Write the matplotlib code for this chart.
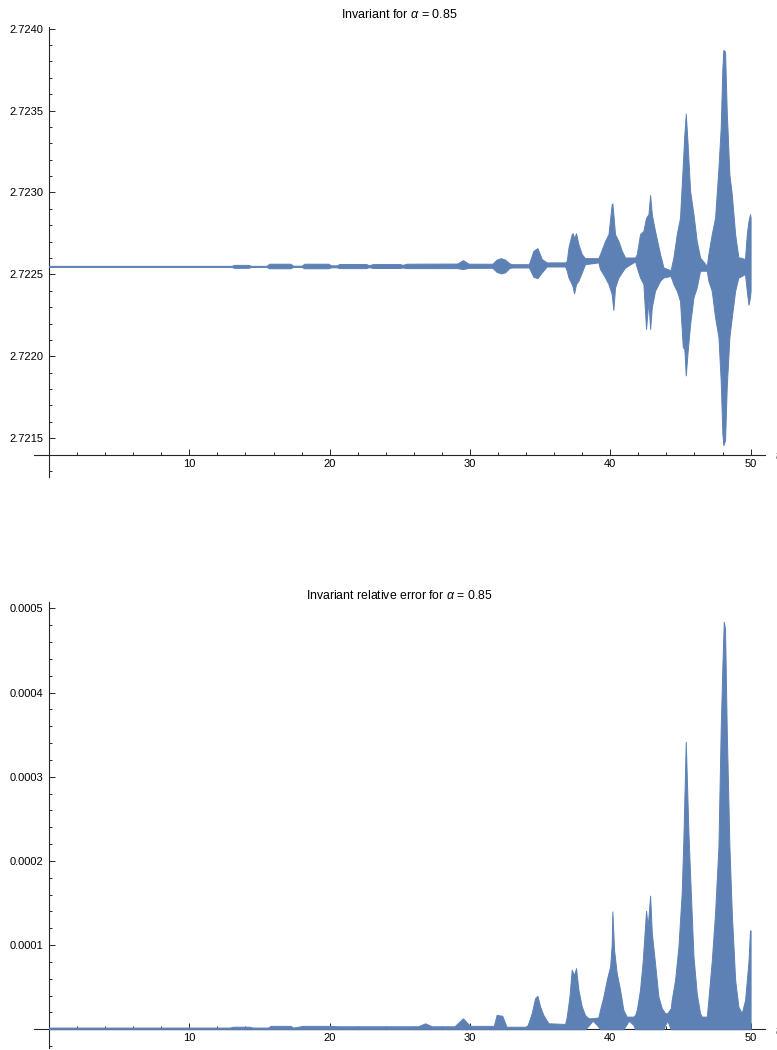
import matplotlib
matplotlib.use("Agg")
import matplotlib.pyplot as plt

plt.rcParams['font.family'] = ['Liberation Sans', 'DejaVu Sans']
plt.rcParams['mathtext.fontset'] = 'custom'
plt.rcParams['mathtext.rm'] = 'Liberation Sans'
plt.rcParams['mathtext.it'] = 'Liberation Sans:italic'

BLUE = "#5E81B5"
AXC = "#262626"

# invariant: envelope (upper / lower) of the fast oscillation
inv_t = [0.0, 13.0, 13.2, 14.2, 14.4, 15.5, 15.7, 17.2, 17.4, 18.0, 18.2, 19.9, 20.1,
         20.5, 20.7, 22.6, 22.8, 23.1, 25.0, 25.2, 25.5, 29.1, 29.5, 29.9, 31.6, 31.9,
         32.2, 32.5, 32.8, 33.0, 34.2, 34.52, 34.81, 35.12, 35.47, 36.78, 36.90, 37.02,
         37.25, 37.33, 37.42, 37.56, 37.73, 37.97, 38.20, 39.15, 39.27, 39.63, 39.87,
         40.10, 40.15, 40.22, 40.34, 40.58, 40.82, 41.06, 41.77, 41.89, 42.12, 42.36,
         42.55, 42.72, 42.84, 42.96, 43.19, 43.55, 43.79, 44.30, 44.50, 44.74, 44.97,
         45.17, 45.28, 45.38, 45.50, 45.69, 45.93, 46.16, 46.40, 46.88, 46.99, 47.23,
         47.47, 47.71, 47.87, 47.99, 48.06, 48.18, 48.30, 48.49, 48.66, 48.90, 49.13,
         49.25, 49.60, 49.73, 49.85, 49.96, 50.00]
inv_hi = [2.722552, 2.722552, 2.722558, 2.722558, 2.722552, 2.722552, 2.722565, 2.722565,
          2.722553, 2.722553, 2.722565, 2.722565, 2.722555, 2.722555, 2.722563, 2.722563,
          2.722556, 2.722563, 2.722563, 2.722558, 2.722565, 2.722566, 2.722587, 2.722565,
          2.722565, 2.722590, 2.722599, 2.722590, 2.722568, 2.722562, 2.722562, 2.722644,
          2.722660, 2.722593, 2.722573, 2.722573, 2.722583, 2.722664, 2.722745, 2.722751,
          2.722720, 2.722751, 2.722684, 2.722623, 2.722599, 2.722599, 2.722623, 2.722704,
          2.722745, 2.722927, 2.722933, 2.722867, 2.722745, 2.722704, 2.722644, 2.722603,
          2.722603, 2.722623, 2.722745, 2.722765, 2.722846, 2.722867, 2.722984, 2.722867,
          2.722765, 2.722623, 2.722542, 2.722525, 2.722603, 2.722745, 2.722846, 2.723171,
          2.723353, 2.723481, 2.723313, 2.723009, 2.722867, 2.722704, 2.722603, 2.722552,
          2.722623, 2.722745, 2.722846, 2.723150, 2.723394, 2.723759, 2.723870, 2.723860,
          2.723495, 2.723110, 2.722988, 2.722745, 2.722603, 2.722603, 2.722593, 2.722745,
          2.722826, 2.722867, 2.722846]
inv_lo = [2.722545, 2.722545, 2.722540, 2.722540, 2.722545, 2.722545, 2.722537, 2.722537,
          2.722545, 2.722545, 2.722537, 2.722537, 2.722543, 2.722543, 2.722538, 2.722538,
          2.722544, 2.722539, 2.722539, 2.722542, 2.722538, 2.722538, 2.722532, 2.722540,
          2.722540, 2.722515, 2.722506, 2.722512, 2.722538, 2.722542, 2.722542, 2.722485,
          2.722477, 2.722512, 2.722548, 2.722548, 2.722522, 2.722481, 2.722441, 2.722420,
          2.722384, 2.722441, 2.722461, 2.722512, 2.722562, 2.722573, 2.722532, 2.722481,
          2.722441, 2.722380, 2.722340, 2.722283, 2.722420, 2.722481, 2.722512, 2.722542,
          2.722579, 2.722542, 2.722481, 2.722441, 2.722167, 2.722339, 2.722167, 2.722299,
          2.722400, 2.722461, 2.722481, 2.722490, 2.722441, 2.722400, 2.722339, 2.722055,
          2.722045, 2.721883, 2.722015, 2.722197, 2.722360, 2.722420, 2.722522, 2.722522,
          2.722461, 2.722400, 2.722238, 2.722116, 2.721853, 2.721528, 2.721457, 2.721488,
          2.721812, 2.722116, 2.722238, 2.722400, 2.722481, 2.722485, 2.722502, 2.722400,
          2.722315, 2.722360, 2.722400]

# relative error: envelope
err_t = [0.0, 12.9, 13.1, 14.3, 14.5, 15.6, 15.8, 17.2, 17.4, 18.1, 19.9, 20.6, 25.0,
         26.3, 26.8, 27.3, 28.9, 29.5, 30.0, 31.7, 31.9, 32.3, 32.6, 34.05, 34.16, 34.40,
         34.64, 34.81, 35.00, 35.23, 35.59, 36.78, 36.90, 37.09, 37.25, 37.42, 37.56,
         37.73, 37.97, 38.20, 38.44, 38.75, 39.15, 39.27, 39.51, 39.75, 39.99, 40.10,
         40.15, 40.27, 40.46, 40.70, 40.93, 41.17, 41.32, 41.65, 41.77, 41.89, 42.12,
         42.31, 42.55, 42.67, 42.84, 42.96, 43.19, 43.43, 43.67, 43.79, 43.91, 44.07,
         44.31, 44.38, 44.62, 44.86, 45.09, 45.21, 45.38, 45.57, 45.74, 45.93, 46.16,
         46.40, 46.52, 46.88, 46.99, 47.23, 47.47, 47.71, 47.87, 47.99, 48.09, 48.18,
         48.30, 48.49, 48.66, 48.90, 49.13, 49.25, 49.37, 49.61, 49.85, 49.96, 50.00]
err_hi = [2e-6, 2e-6, 3e-6, 3e-6, 2e-6, 2e-6, 4e-6, 4e-6, 2e-6, 4e-6, 4e-6, 3.5e-6, 3.5e-6,
          3.5e-6, 7e-6, 3.5e-6, 3.5e-6, 1.3e-5, 4e-6, 4e-6, 1.7e-5, 1.6e-5, 3e-6, 3e-6,
          7.1e-6, 1.9e-5, 3.69e-5, 3.96e-5, 2.69e-5, 1.7e-5, 7.1e-6, 6.3e-6, 1.5e-5,
          3.88e-5, 7.06e-5, 6.46e-5, 7.26e-5, 4.68e-5, 2.69e-5, 1.7e-5, 1.31e-5, 1.31e-5,
          1.4e-5, 2.3e-5, 3.88e-5, 5.87e-5, 7.46e-5, 1.0e-4, 1.40e-4, 9.44e-5, 6.66e-5,
          4.68e-5, 2.3e-5, 1.5e-5, 1.5e-5, 1.5e-5, 1.7e-5, 2.3e-5, 4.68e-5, 8.05e-5,
          1.408e-4, 1.222e-4, 1.587e-4, 1.142e-4, 7.85e-5, 3.88e-5, 2.5e-5, 2.2e-5, 1.9e-5,
          1.9e-5, 2.5e-5, 3.49e-5, 5.87e-5, 9.84e-5, 1.619e-4, 2.254e-4, 3.416e-4,
          2.333e-4, 1.62e-4, 8.65e-5, 4.28e-5, 1.9e-5, 1.5e-5, 1.5e-5, 3.49e-5, 8.05e-5,
          1.381e-4, 2.174e-4, 3.563e-4, 4.317e-4, 4.841e-4, 4.754e-4, 3.563e-4, 2.174e-4,
          1.381e-4, 5.87e-5, 2.69e-5, 2.3e-5, 1.9e-5, 3.49e-5, 8.05e-5, 1.174e-4, 1.174e-4]
err_lo = [0] * 40 + [4e-6, 1.03e-5, 3e-6] + [0] * 10 + [6e-6, 1.03e-5, 5e-6] + [0] * 12 \
    + [5e-6, 1.0e-5] + [0] * 33

fig = plt.figure(figsize=(7.77, 10.5), dpi=100)
ax1 = fig.add_axes([0.0438, 0.5457, 0.9408, 0.4286])
ax2 = fig.add_axes([0.0438, 0.0019, 0.9408, 0.4251])


def style(ax, y0, ymaj, ymin, fmt):
    for s in ("top", "right"):
        ax.spines[s].set_visible(False)
    ax.spines["left"].set_position(("data", 0))
    ax.spines["bottom"].set_position(("data", y0))
    for s in ("left", "bottom"):
        ax.spines[s].set_color(AXC)
        ax.spines[s].set_linewidth(0.8)
        ax.spines[s].set_zorder(2)
    ax.set_xlim(-1.07, 51.03)
    ax.set_xticks([10, 20, 30, 40, 50])
    ax.set_xticks([v for v in range(2, 51, 2) if v % 10], minor=True)
    ax.set_yticks(ymaj)
    ax.set_yticks(ymin, minor=True)
    ax.set_yticklabels([fmt % v for v in ymaj])
    ax.tick_params(which="both", direction="in", color=AXC, width=0.7, labelsize=8,
                   labelcolor="black")
    ax.tick_params(which="major", length=4)
    ax.tick_params(which="minor", length=2.5)
    ax.tick_params(axis="x", pad=3)
    ax.tick_params(axis="y", pad=4)


ax1.fill_between(inv_t, inv_lo, inv_hi, color=BLUE, lw=0.7, zorder=3)
ax1.set_ylim(2.721263, 2.72401)
style(ax1, 2.7214, [2.7215, 2.7220, 2.7225, 2.7230, 2.7235, 2.7240],
      [2.7213 + 0.0001 * i for i in range(28)], "%.4f")
ax1.set_title(r"Invariant for $\alpha$ = 0.85", fontsize=9, pad=6.5)

ax2.fill_between(err_t, err_lo, err_hi, color=BLUE, lw=0.7, zorder=3)
ax2.set_ylim(-0.0000223, 0.000508)
style(ax2, 0, [0.0001, 0.0002, 0.0003, 0.0004, 0.0005],
      [-0.00002 + 0.00002 * i for i in range(27)], "%.4f")
ax2.set_title(r"Invariant relative error for $\alpha$ = 0.85", fontsize=8.8, pad=1.5)

fig.text(775 / 777, 1 - 456 / 1050, "t", style="italic", fontsize=8, va="center")
fig.text(775 / 777, 1 - 1031 / 1050, "t", style="italic", fontsize=8, va="center")

fig.savefig("out.png", dpi=100)
